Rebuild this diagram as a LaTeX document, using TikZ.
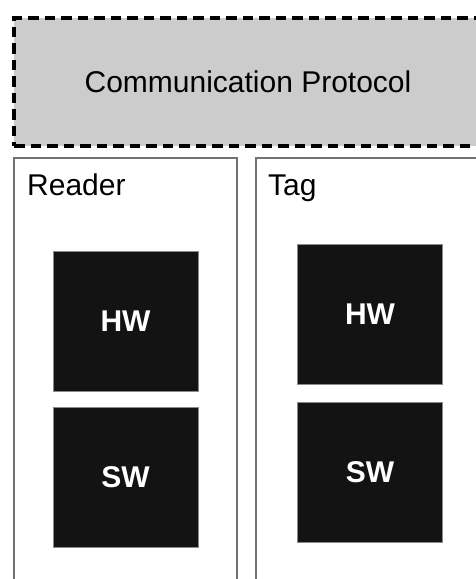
\documentclass[tikz,border=0pt]{standalone}
\usepackage{fontspec}
\setmainfont{Liberation Sans}
\definecolor{protofill}{HTML}{CCCCCC}
\definecolor{frameline}{HTML}{727272}
\definecolor{blockfill}{HTML}{131313}
\definecolor{blockedge}{HTML}{8A8A8A}
\tikzset{
  protocol/.style={rectangle, draw=black, fill=protofill, line width=3.8pt,
    dash pattern=on 10.5pt off 6pt, inner sep=0pt,
    minimum width=468pt, minimum height=128pt,
    font=\fontsize{30}{36}\selectfont},
  partframe/.style={rectangle, draw=frameline, fill=white, line width=1.4pt,
    inner sep=0pt, minimum width=223pt, minimum height=462pt},
  partlabel/.style={anchor=base west, inner sep=0pt,
    font=\fontsize{30}{36}\selectfont},
  block/.style={rectangle, fill=blockfill, draw=blockedge, line width=0.7pt,
    inner sep=0pt, minimum width=145pt, minimum height=140pt, text=white,
    font=\fontsize{30}{36}\selectfont\bfseries}
}
\begin{document}
\begin{tikzpicture}[x=1pt,y=-1pt]
  \clip (0,0) rectangle (476,579);
  \fill[white] (0,0) rectangle (476,579);

  % protocol layer across the top
  \node[protocol] (proto) at (248,82) {Communication Protocol};

  % the two communicating parties
  \node[partframe] (reader) at (125.5,389) {};
  \node[partframe] (tag) at (367.5,389) {};
  \node[partlabel] (readerlbl) at (27,195) {Reader};
  \node[partlabel] (taglbl) at (268,195) {Tag};

  % hardware and software blocks
  \node[block] (rhw) at (125.5,321) {HW};
  \node[block] (rsw) at (125.5,477.5) {SW};
  \node[block] (thw) at (370,314.5) {HW};
  \node[block] (tsw) at (370,472) {SW};
\end{tikzpicture}
\end{document}
